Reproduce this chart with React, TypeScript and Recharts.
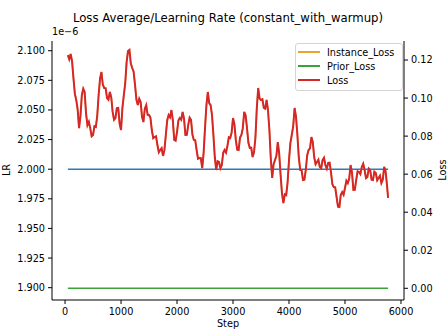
/**
 * Loss average / learning rate chart (twin y axes)
 */

import { ComposedChart, Line, XAxis, YAxis } from 'recharts';

const steps = [
  50, 75, 100, 125, 150, 175, 200, 225, 250, 275, 300, 325, 350, 375, 400, 425, 450, 475, 500, 525,
  550, 575, 600, 625, 650, 675, 700, 725, 750, 775, 800, 825, 850, 875, 900, 925, 950, 975, 1000, 1025,
  1050, 1075, 1100, 1125, 1150, 1175, 1200, 1225, 1250, 1275, 1300, 1325, 1350, 1375, 1400, 1425, 1450, 1475, 1500, 1525,
  1550, 1575, 1600, 1625, 1650, 1675, 1700, 1725, 1750, 1775, 1800, 1825, 1850, 1875, 1900, 1925, 1950, 1975, 2000, 2025,
  2050, 2075, 2100, 2125, 2150, 2175, 2200, 2225, 2250, 2275, 2300, 2325, 2350, 2375, 2400, 2425, 2450, 2475, 2500, 2525,
  2550, 2575, 2600, 2625, 2650, 2675, 2700, 2725, 2750, 2775, 2800, 2825, 2850, 2875, 2900, 2925, 2950, 2975, 3000, 3025,
  3050, 3075, 3100, 3125, 3150, 3175, 3200, 3225, 3250, 3275, 3300, 3325, 3350, 3375, 3400, 3425, 3450, 3475, 3500, 3525,
  3550, 3575, 3600, 3625, 3650, 3675, 3700, 3725, 3750, 3775, 3800, 3825, 3850, 3875, 3900, 3925, 3950, 3975, 4000, 4025,
  4050, 4075, 4100, 4125, 4150, 4175, 4200, 4225, 4250, 4275, 4300, 4325, 4350, 4375, 4400, 4425, 4450, 4475, 4500, 4525,
  4550, 4575, 4600, 4625, 4650, 4675, 4700, 4725, 4750, 4775, 4800, 4825, 4850, 4875, 4900, 4925, 4950, 4975, 5000, 5025,
  5050, 5075, 5100, 5125, 5150, 5175, 5200, 5225, 5250, 5275, 5300, 5325, 5350, 5375, 5400, 5425, 5450, 5475, 5500, 5525,
  5550, 5575, 5600, 5625, 5650, 5675, 5700, 5725, 5750, 5770,
];

// Loss (Instance_Loss is the same curve underneath, Prior_Loss is 0)
const lossValues = [
  0.1226, 0.1204, 0.1232, 0.1194, 0.1106, 0.1023, 0.099, 0.0941, 0.0842, 0.0904,
  0.1016, 0.1049, 0.1032, 0.092, 0.0858, 0.0875, 0.0842, 0.0799, 0.0806, 0.0852,
  0.0848, 0.0907, 0.1016, 0.1102, 0.1137, 0.107, 0.1053, 0.1052, 0.1, 0.0991,
  0.1032, 0.1005, 0.0927, 0.0886, 0.0895, 0.0947, 0.0948, 0.0865, 0.0832, 0.0949,
  0.1016, 0.1078, 0.119, 0.1247, 0.1253, 0.1181, 0.1158, 0.1139, 0.1069, 0.0991,
  0.0963, 0.0996, 0.0979, 0.0902, 0.0874, 0.0944, 0.0963, 0.0912, 0.0911, 0.0897,
  0.0832, 0.0789, 0.0795, 0.0799, 0.0753, 0.0715, 0.0727, 0.0737, 0.0696, 0.0726,
  0.0806, 0.0884, 0.0911, 0.0899, 0.0937, 0.0884, 0.078, 0.0776, 0.0821, 0.0883,
  0.0895, 0.0886, 0.0927, 0.0892, 0.0806, 0.0807, 0.0858, 0.0897, 0.0885, 0.0808,
  0.078, 0.0779, 0.0727, 0.0681, 0.0685, 0.0684, 0.0632, 0.0712, 0.0842, 0.0962,
  0.1032, 0.0973, 0.0963, 0.091, 0.0806, 0.0689, 0.0622, 0.0668, 0.0664, 0.0631,
  0.0648, 0.0713, 0.0727, 0.0713, 0.0748, 0.0794, 0.079, 0.0818, 0.0895, 0.0863,
  0.078, 0.0729, 0.0727, 0.0792, 0.0806, 0.0842, 0.0927, 0.091, 0.0842, 0.0765,
  0.0738, 0.0739, 0.069, 0.0715, 0.079, 0.0947, 0.1053, 0.0997, 0.099, 0.0994,
  0.0948, 0.0944, 0.099, 0.0936, 0.0832, 0.0681, 0.058, 0.0652, 0.0674, 0.0697,
  0.0769, 0.0708, 0.0596, 0.0497, 0.0448, 0.0494, 0.049, 0.0557, 0.0674, 0.0765,
  0.0806, 0.0852, 0.0948, 0.0902, 0.0806, 0.0689, 0.0622, 0.0621, 0.0569, 0.0571,
  0.0622, 0.07, 0.0727, 0.0736, 0.0795, 0.0768, 0.069, 0.0652, 0.0664, 0.0676,
  0.0638, 0.0631, 0.0674, 0.0686, 0.0648, 0.0629, 0.0659, 0.066, 0.0611, 0.0547,
  0.0532, 0.0531, 0.048, 0.0429, 0.0427, 0.0492, 0.0506, 0.0492, 0.0527, 0.0565,
  0.0553, 0.0576, 0.0648, 0.0608, 0.0517, 0.0518, 0.0569, 0.0615, 0.0611, 0.06,
  0.0638, 0.0655, 0.0622, 0.0579, 0.0585, 0.0629, 0.0622, 0.0571, 0.0569, 0.0613,
  0.0606, 0.0568, 0.058, 0.0592, 0.0553, 0.0571, 0.0638, 0.0616, 0.0543, 0.0475,
];

const LR_VALUE = 2.0; // x 1e-6, constant_with_warmup
const PRIOR_VALUE = 0;

const xTicks = [0, 1000, 2000, 3000, 4000, 5000, 6000];
const lrTicks = [1.9, 1.925, 1.95, 1.975, 2.0, 2.025, 2.05, 2.075, 2.1];
const lossTicks = [0, 0.02, 0.04, 0.06, 0.08, 0.1, 0.12];

const COLORS = {
  lr: '#2f7bb6',
  instance: '#e8a530',
  prior: '#3aa33a',
  loss: '#d62728',
};

const LEGEND = [
  { name: 'Instance_Loss', color: COLORS.instance },
  { name: 'Prior_Loss', color: COLORS.prior },
  { name: 'Loss', color: COLORS.loss },
];

const FONT = '"DejaVu Sans", sans-serif';

const data = steps.map((step, i) => ({
  step,
  lr: LR_VALUE,
  instance: lossValues[i],
  prior: PRIOR_VALUE,
  loss: lossValues[i],
}));

function LegendBox() {
  return (
    <div
      style={{
        position: 'absolute',
        left: 295,
        top: 43,
        width: 108,
        boxSizing: 'border-box',
        border: '1px solid #d4d4d4',
        borderRadius: 3,
        background: 'rgba(255,255,255,0.85)',
        padding: '1px 0 3px 2px',
        fontFamily: FONT,
        fontSize: 9.7,
        color: '#000',
      }}
    >
      {LEGEND.map((item) => (
        <div key={item.name} style={{ height: 14, display: 'flex', alignItems: 'center' }}>
          <span style={{ width: 22, height: 1.5, background: item.color, marginRight: 7 }} />
          <span>{item.name}</span>
        </div>
      ))}
    </div>
  );
}

const tickStyle = { fontSize: 9.7, fontFamily: FONT, fill: '#000' };

export default function App() {
  return (
    <div style={{ position: 'absolute', left: 0, top: 0, width: 448, height: 335, background: '#fff' }}>
      <ComposedChart
        width={448}
        height={335}
        data={data}
        margin={{ top: 41, right: 0, bottom: 0, left: 0 }}
      >
        <XAxis
          dataKey="step"
          type="number"
          domain={[-233, 6054]}
          ticks={xTicks}
          allowDataOverflow
          height={35}
          tickSize={4}
          tickMargin={4}
          tick={tickStyle}
          stroke="#000"
        />
        <XAxis
          xAxisId="top"
          orientation="top"
          dataKey="step"
          type="number"
          domain={[-233, 6054]}
          height={0}
          tick={false}
          tickLine={false}
          stroke="#000"
        />
        <YAxis
          yAxisId="left"
          type="number"
          domain={[1.8896, 2.1082]}
          ticks={lrTicks}
          allowDataOverflow
          width={52}
          tickSize={4}
          tickMargin={3}
          tick={tickStyle}
          tickFormatter={(v: number) => v.toFixed(3)}
          stroke="#000"
        />
        <YAxis
          yAxisId="right"
          orientation="right"
          type="number"
          domain={[-0.00615, 0.13]}
          ticks={lossTicks}
          allowDataOverflow
          width={44}
          tickSize={4}
          tickMargin={3}
          tick={tickStyle}
          tickFormatter={(v: number) => v.toFixed(2)}
          stroke="#000"
        />
        <Line
          yAxisId="left"
          dataKey="lr"
          stroke={COLORS.lr}
          strokeWidth={1.5}
          dot={false}
          isAnimationActive={false}
        />
        <Line
          yAxisId="right"
          dataKey="instance"
          stroke={COLORS.instance}
          strokeWidth={1.5}
          dot={false}
          isAnimationActive={false}
        />
        <Line
          yAxisId="right"
          dataKey="prior"
          stroke={COLORS.prior}
          strokeWidth={1.5}
          dot={false}
          isAnimationActive={false}
        />
        <Line
          yAxisId="right"
          dataKey="loss"
          stroke={COLORS.loss}
          strokeWidth={2}
          dot={false}
          isAnimationActive={false}
        />
      </ComposedChart>
      <LegendBox />
      <svg
        width={448}
        height={335}
        style={{ position: 'absolute', left: 0, top: 0, pointerEvents: 'none' }}
        fontFamily={FONT}
      >
        <text x={228} y={22} textAnchor="middle" fontSize={11.7} fill="#000">
          Loss Average/Learning Rate (constant_with_warmup)
        </text>
        <text x={52} y={35} fontSize={9.7} fill="#000">
          1e−6
        </text>
        <text x={10} y={170} textAnchor="middle" fontSize={9.7} fill="#000" transform="rotate(-90 10 170)">
          LR
        </text>
        <text x={446} y={170} textAnchor="middle" fontSize={9.7} fill="#000" transform="rotate(-90 446 170)">
          Loss
        </text>
        <text x={228} y={327} textAnchor="middle" fontSize={9.7} fill="#000">
          Step
        </text>
      </svg>
    </div>
  );
}
